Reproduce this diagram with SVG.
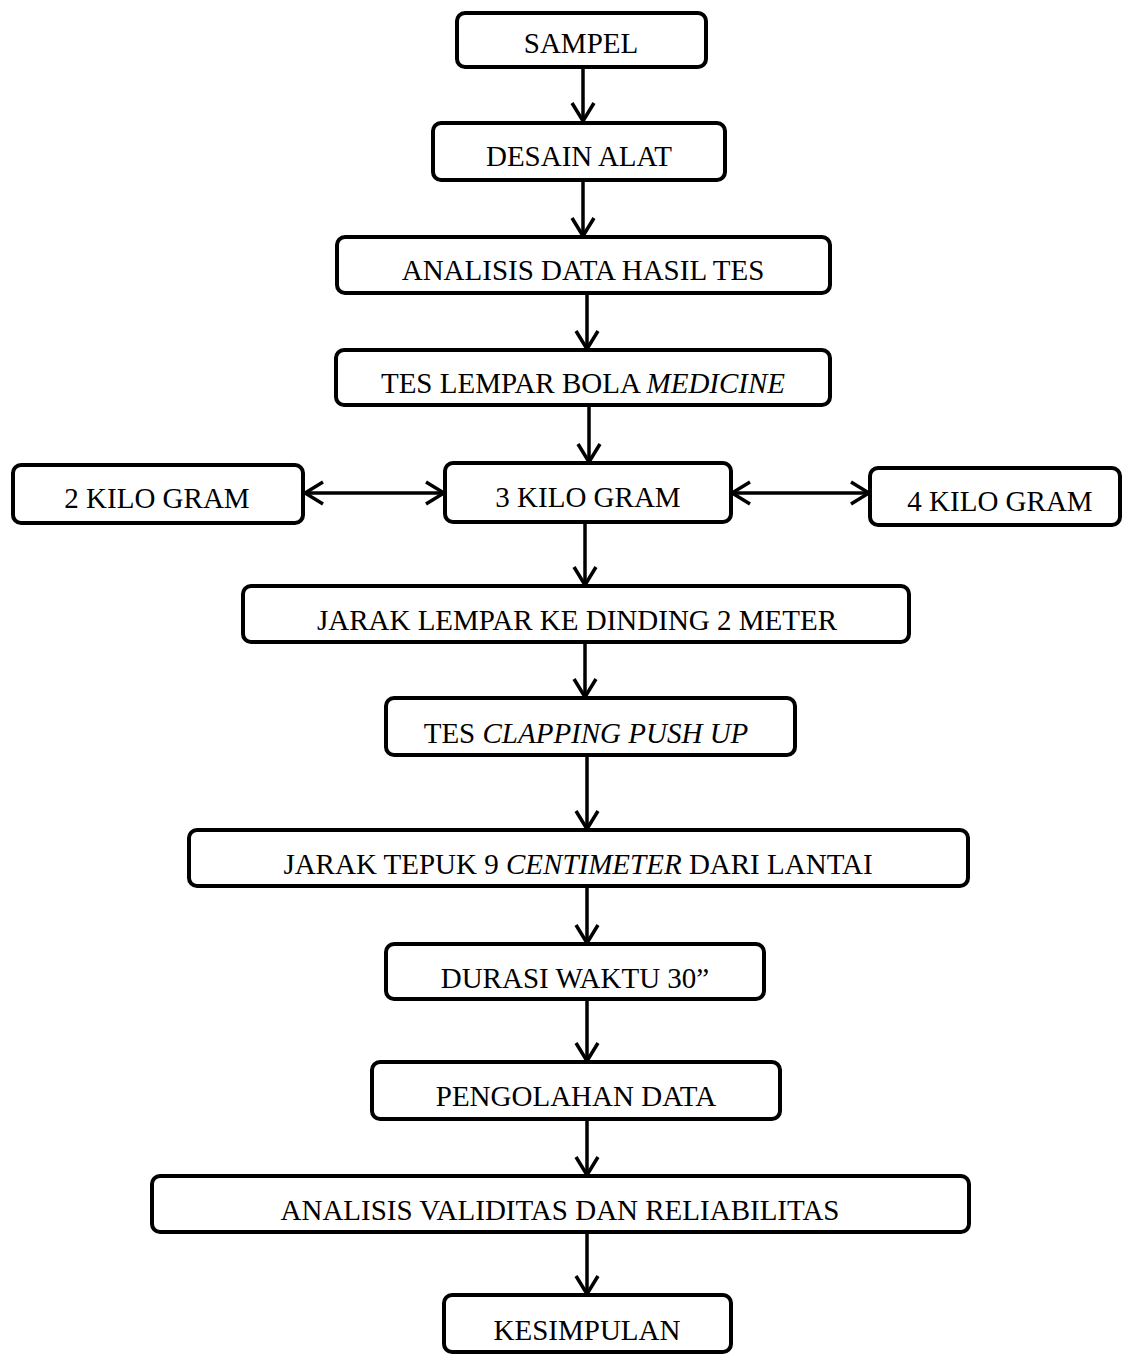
<svg xmlns="http://www.w3.org/2000/svg" width="1124" height="1360" viewBox="0 0 1124 1360">
<style>
.box{fill:#fff;stroke:#000;stroke-width:4}
.t{font-family:"Liberation Serif","Times New Roman",serif;font-size:29px;fill:#000;text-anchor:middle}
.i{font-style:italic}
.c{stroke:#000;stroke-width:3.5;fill:none}
</style>
<defs>
<marker id="ah" viewBox="0 0 22 26" refX="20" refY="13" markerWidth="22" markerHeight="26" markerUnits="userSpaceOnUse" orient="auto-start-reverse">
<path d="M2,2 L20,13 L2,24" fill="none" stroke="#000" stroke-width="3.5"/>
</marker>
</defs>
<rect width="1124" height="1360" fill="#fff"/>
<g id="connectors">
<line class="c" x1="583" y1="67" x2="583" y2="121" marker-end="url(#ah)"/>
<line class="c" x1="583" y1="180" x2="583" y2="236" marker-end="url(#ah)"/>
<line class="c" x1="587" y1="293" x2="587" y2="349" marker-end="url(#ah)"/>
<line class="c" x1="589" y1="405" x2="589" y2="462" marker-end="url(#ah)"/>
<line class="c" x1="305" y1="493" x2="444" y2="493" marker-start="url(#ah)" marker-end="url(#ah)"/>
<line class="c" x1="732" y1="493" x2="869" y2="493" marker-start="url(#ah)" marker-end="url(#ah)"/>
<line class="c" x1="585" y1="522" x2="585" y2="585" marker-end="url(#ah)"/>
<line class="c" x1="585" y1="642" x2="585" y2="697" marker-end="url(#ah)"/>
<line class="c" x1="587" y1="755" x2="587" y2="829" marker-end="url(#ah)"/>
<line class="c" x1="587" y1="886" x2="587" y2="943" marker-end="url(#ah)"/>
<line class="c" x1="587" y1="999" x2="587" y2="1061" marker-end="url(#ah)"/>
<line class="c" x1="587" y1="1119" x2="587" y2="1175" marker-end="url(#ah)"/>
<line class="c" x1="587" y1="1232" x2="587" y2="1294" marker-end="url(#ah)"/>
</g>
<g id="sampel"><rect class="box" x="457" y="13" width="249" height="54" rx="8"/><text class="t" x="581" y="53">SAMPEL</text></g>
<g id="desain"><rect class="box" x="433" y="123" width="292" height="57" rx="8"/><text class="t" x="579" y="166">DESAIN ALAT</text></g>
<g id="analisis-data"><rect class="box" x="337" y="237" width="493" height="56" rx="8"/><text class="t" x="583" y="280">ANALISIS DATA HASIL TES</text></g>
<g id="tes-lempar"><rect class="box" x="336" y="350" width="494" height="55" rx="8"/><text class="t" x="583" y="393">TES LEMPAR BOLA <tspan class="i">MEDICINE</tspan></text></g>
<g id="kg2"><rect class="box" x="13" y="465" width="290" height="58" rx="8"/><text class="t" x="157" y="508">2 KILO GRAM</text></g>
<g id="kg3"><rect class="box" x="445" y="463" width="286" height="59" rx="8"/><text class="t" x="588" y="507">3 KILO GRAM</text></g>
<g id="kg4"><rect class="box" x="870" y="468" width="250" height="57" rx="8"/><text class="t" x="1000" y="511">4 KILO GRAM</text></g>
<g id="jarak-lempar"><rect class="box" x="243" y="586" width="666" height="56" rx="8"/><text class="t" x="577" y="630">JARAK LEMPAR KE DINDING 2 METER</text></g>
<g id="tes-clapping"><rect class="box" x="386" y="698" width="409" height="57" rx="8"/><text class="t" x="586" y="743">TES <tspan class="i">CLAPPING PUSH UP</tspan></text></g>
<g id="jarak-tepuk"><rect class="box" x="189" y="830" width="779" height="56" rx="8"/><text class="t" x="578" y="874">JARAK TEPUK 9 <tspan class="i">CENTIMETER</tspan> DARI LANTAI</text></g>
<g id="durasi"><rect class="box" x="386" y="944" width="378" height="55" rx="8"/><text class="t" x="575" y="988">DURASI WAKTU 30”</text></g>
<g id="pengolahan"><rect class="box" x="372" y="1062" width="408" height="57" rx="8"/><text class="t" x="576" y="1106">PENGOLAHAN DATA</text></g>
<g id="validitas"><rect class="box" x="152" y="1176" width="817" height="56" rx="8"/><text class="t" x="560" y="1220">ANALISIS VALIDITAS DAN RELIABILITAS</text></g>
<g id="kesimpulan"><rect class="box" x="444" y="1295" width="287" height="57" rx="8"/><text class="t" x="587" y="1340">KESIMPULAN</text></g>
</svg>
